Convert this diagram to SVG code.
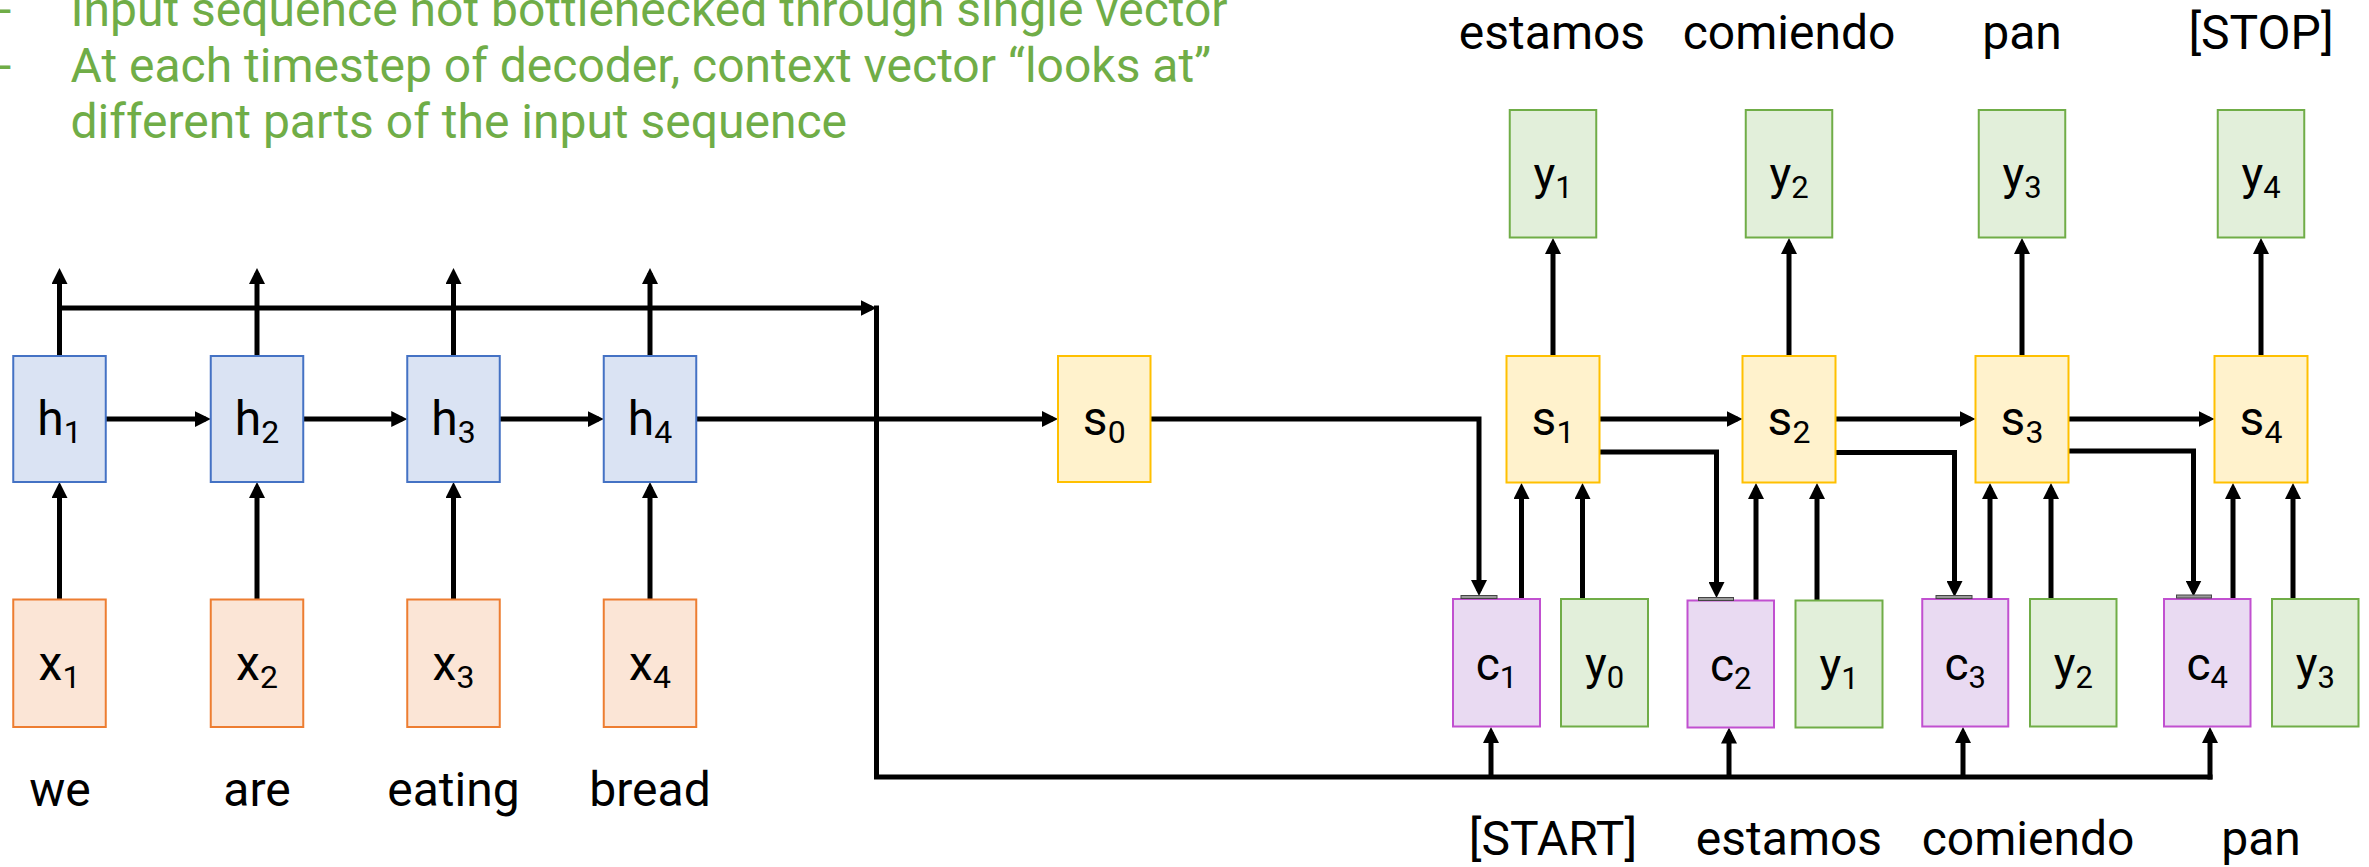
<svg xmlns="http://www.w3.org/2000/svg" width="2369" height="867" viewBox="0 0 2369 867">
<defs>
<style>
.bg{fill:#ffffff}
.ln{stroke:#000;stroke-width:5;fill:none;stroke-linejoin:miter}
.ar{marker-end:url(#ah)}
.bh{fill:#dae3f3;stroke:#4472c4;stroke-width:2}
.bx{fill:#fbe5d6;stroke:#ed7d31;stroke-width:2}
.bs{fill:#fff2cc;stroke:#ffc000;stroke-width:2}
.bc{fill:#e9daf2;stroke:#c150d0;stroke-width:2}
.by{fill:#e2efda;stroke:#70ad47;stroke-width:2}
.tab{fill:#9a9a9a;stroke:#444;stroke-width:1}
text{font-family:Roboto,"Liberation Sans",sans-serif}
.lbl{font-size:48px;fill:#000;text-anchor:middle}
.lsm{font-size:46px;fill:#000;text-anchor:middle}
.sub{font-size:32px}
.sub2{font-size:31px}
.note{font-size:48px;fill:#70ad47}
</style>
<marker id="ah" markerUnits="userSpaceOnUse" markerWidth="16" markerHeight="16" refX="11" refY="8" orient="auto" viewBox="0 0 16 16">
<path d="M0,0 L16,8 L0,16 z" fill="#000"/>
</marker>
</defs>
<rect class="bg" x="0" y="0" width="2369" height="867"/>

<g id="notes">
<text class="note" x="-2" y="26">-</text>
<text class="note" x="70.5" y="26">Input sequence not bottlenecked through single vector</text>
<text class="note" x="-2" y="82">-</text>
<text class="note" x="70.5" y="82">At each timestep of decoder, context vector “looks at”</text>
<text class="note" x="70.5" y="138">different parts of the input sequence</text>
</g>

<g id="connectors">
<path class="ln ar" d="M59.5,599.5 V487"/>
<path class="ln ar" d="M257,599.5 V487"/>
<path class="ln ar" d="M453.5,599.5 V487"/>
<path class="ln ar" d="M650,599.5 V487"/>
<path class="ln ar" d="M59.5,356 V273"/>
<path class="ln ar" d="M257,356 V273"/>
<path class="ln ar" d="M453.5,356 V273"/>
<path class="ln ar" d="M650,356 V273"/>
<path class="ln ar" d="M105.75,419 H205.75"/>
<path class="ln ar" d="M303.25,419 H402.25"/>
<path class="ln ar" d="M499.75,419 H598.75"/>
<path class="ln ar" d="M696.25,419 H1053"/>
<path class="ln ar" d="M57,308 H871.5"/>
<path class="ln" d="M876.5,305.5 V777 H2212.5"/>
<path class="ln ar" d="M1491,777 V732"/>
<path class="ln ar" d="M1729,777 V732.5"/>
<path class="ln ar" d="M1963,777 V732"/>
<path class="ln ar" d="M2210,779.5 V732"/>
<path class="ln ar" d="M1150.5,419 H1479 V591"/>
<path class="ln ar" d="M1599.5,419 H1737.5"/>
<path class="ln ar" d="M1835.5,419 H1970.5"/>
<path class="ln ar" d="M2068.5,419 H2209.5"/>
<path class="ln ar" d="M1599.5,452 H1716.5 V593"/>
<path class="ln ar" d="M1835.5,452.5 H1954.5 V592"/>
<path class="ln ar" d="M2068.5,451 H2193.5 V591.5"/>
<path class="ln ar" d="M1521.5,599 V488"/>
<path class="ln ar" d="M1756,600.5 V488"/>
<path class="ln ar" d="M1990,599 V488"/>
<path class="ln ar" d="M2233,599 V488"/>
<path class="ln ar" d="M1582.5,599 V488"/>
<path class="ln ar" d="M1817,600.5 V488"/>
<path class="ln ar" d="M2051,599 V488"/>
<path class="ln ar" d="M2293,599 V488"/>
<path class="ln ar" d="M1553,355.5 V243"/>
<path class="ln ar" d="M1789,355.5 V243"/>
<path class="ln ar" d="M2022,355.5 V243"/>
<path class="ln ar" d="M2261,355.5 V243"/>
</g>

<g id="h1"><rect class="bh" x="13.25" y="356" width="92.5" height="126"/><text class="lbl" x="59.5" y="435">h<tspan class="sub" dy="8">1</tspan></text></g>
<g id="h2"><rect class="bh" x="210.75" y="356" width="92.5" height="126"/><text class="lbl" x="257" y="435">h<tspan class="sub" dy="8">2</tspan></text></g>
<g id="h3"><rect class="bh" x="407.25" y="356" width="92.5" height="126"/><text class="lbl" x="453.5" y="435">h<tspan class="sub" dy="8">3</tspan></text></g>
<g id="h4"><rect class="bh" x="603.75" y="356" width="92.5" height="126"/><text class="lbl" x="650" y="435">h<tspan class="sub" dy="8">4</tspan></text></g>

<g id="x1"><rect class="bx" x="13.25" y="599.5" width="92.5" height="127.5"/><text class="lbl" x="59.5" y="680">x<tspan class="sub" dy="8">1</tspan></text></g>
<g id="x2"><rect class="bx" x="210.75" y="599.5" width="92.5" height="127.5"/><text class="lbl" x="257" y="680">x<tspan class="sub" dy="8">2</tspan></text></g>
<g id="x3"><rect class="bx" x="407.25" y="599.5" width="92.5" height="127.5"/><text class="lbl" x="453.5" y="680">x<tspan class="sub" dy="8">3</tspan></text></g>
<g id="x4"><rect class="bx" x="603.75" y="599.5" width="92.5" height="127.5"/><text class="lbl" x="650" y="680">x<tspan class="sub" dy="8">4</tspan></text></g>

<g id="enc-words">
<text class="lbl" x="60" y="805.5">we</text>
<text class="lbl" x="257" y="805.5">are</text>
<text class="lbl" x="453.5" y="805.5">eating</text>
<text class="lbl" x="650" y="805.5">bread</text>
</g>

<g id="s0"><rect class="bs" x="1058" y="356" width="92.5" height="126"/><text class="lbl" x="1104.25" y="435">s<tspan class="sub" dy="8">0</tspan></text></g>
<g id="s1"><rect class="bs" x="1506.5" y="356" width="93" height="126.5"/><text class="lbl" x="1553" y="435">s<tspan class="sub" dy="8">1</tspan></text></g>
<g id="s2"><rect class="bs" x="1742.5" y="356" width="93" height="126.5"/><text class="lbl" x="1789" y="435">s<tspan class="sub" dy="8">2</tspan></text></g>
<g id="s3"><rect class="bs" x="1975.5" y="356" width="93" height="126.5"/><text class="lbl" x="2022" y="435">s<tspan class="sub" dy="8">3</tspan></text></g>
<g id="s4"><rect class="bs" x="2214.5" y="356" width="93" height="126.5"/><text class="lbl" x="2261" y="435">s<tspan class="sub" dy="8">4</tspan></text></g>

<g id="yo1"><rect class="by" x="1509.75" y="110" width="86.5" height="127.5"/><text class="lsm" x="1553" y="190">y<tspan class="sub2" dy="8">1</tspan></text></g>
<g id="yo2"><rect class="by" x="1745.75" y="110" width="86.5" height="127.5"/><text class="lsm" x="1789" y="190">y<tspan class="sub2" dy="8">2</tspan></text></g>
<g id="yo3"><rect class="by" x="1978.75" y="110" width="86.5" height="127.5"/><text class="lsm" x="2022" y="190">y<tspan class="sub2" dy="8">3</tspan></text></g>
<g id="yo4"><rect class="by" x="2217.75" y="110" width="86.5" height="127.5"/><text class="lsm" x="2261" y="190">y<tspan class="sub2" dy="8">4</tspan></text></g>

<g id="out-words">
<text class="lbl" x="1552" y="49">estamos</text>
<text class="lbl" x="1789" y="49">comiendo</text>
<text class="lbl" x="2022" y="49">pan</text>
<text class="lbl" x="2261" y="49">[STOP]</text>
</g>

<g id="c1"><rect class="bc" x="1453" y="599" width="87" height="127.5"/><rect class="tab" x="1461" y="595.5" width="36" height="3"/><text class="lsm" x="1496.5" y="680">c<tspan class="sub2" dy="8">1</tspan></text></g>
<g id="c2"><rect class="bc" x="1687.5" y="600.5" width="86.5" height="127"/><rect class="tab" x="1698.5" y="597.5" width="35" height="3"/><text class="lsm" x="1730.75" y="681">c<tspan class="sub2" dy="8">2</tspan></text></g>
<g id="c3"><rect class="bc" x="1922.25" y="599" width="86" height="127.5"/><rect class="tab" x="1936" y="595.5" width="36" height="3"/><text class="lsm" x="1965.25" y="680">c<tspan class="sub2" dy="8">3</tspan></text></g>
<g id="c4"><rect class="bc" x="2164" y="599" width="86.5" height="127.5"/><rect class="tab" x="2176.5" y="595" width="35" height="3"/><text class="lsm" x="2207.25" y="680">c<tspan class="sub2" dy="8">4</tspan></text></g>

<g id="yi0"><rect class="by" x="1561" y="599" width="87" height="127.5"/><text class="lsm" x="1604.5" y="680">y<tspan class="sub2" dy="8">0</tspan></text></g>
<g id="yi1"><rect class="by" x="1795.5" y="600.5" width="87" height="127"/><text class="lsm" x="1839" y="681">y<tspan class="sub2" dy="8">1</tspan></text></g>
<g id="yi2"><rect class="by" x="2030" y="599" width="86.5" height="127.5"/><text class="lsm" x="2073.25" y="680">y<tspan class="sub2" dy="8">2</tspan></text></g>
<g id="yi3"><rect class="by" x="2272" y="599" width="86.5" height="127.5"/><text class="lsm" x="2315.25" y="680">y<tspan class="sub2" dy="8">3</tspan></text></g>

<g id="in-words">
<text class="lbl" x="1553" y="855">[START]</text>
<text class="lbl" x="1789" y="855">estamos</text>
<text class="lbl" x="2028" y="855">comiendo</text>
<text class="lbl" x="2261" y="855">pan</text>
</g>
</svg>
